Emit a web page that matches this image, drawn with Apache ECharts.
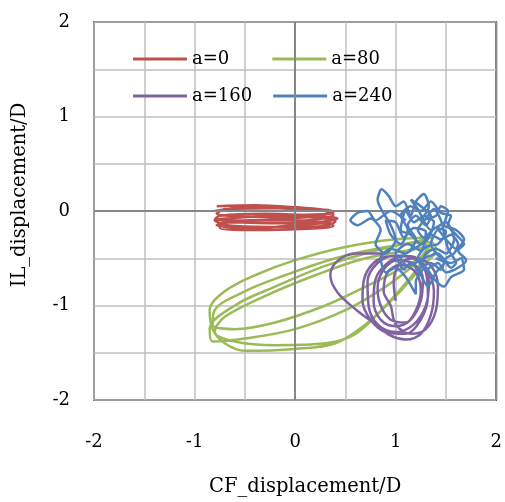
<!DOCTYPE html>
<html>
<head>
<meta charset="utf-8">
<script src="https://cdn.jsdelivr.net/npm/echarts@6/dist/echarts.min.js"></script>
<style>html,body{margin:0;padding:0;background:#fff;}#chart{width:505px;height:502px;}</style>
</head>
<body>
<div id="chart"></div>
<script>
var xTicks = [-2, -1, 0, 1, 2];
var yTicks = [-2, -1, 0, 1, 2];
var seriesNames = ['a=0', 'a=80', 'a=160', 'a=240'];

var a0 = [
  [-0.78,0.05],[-0.4,0.06],[0.0,0.04],[0.3,0.01],[0.38,-0.02],[0.1,-0.04],[-0.3,-0.03],[-0.75,-0.05],
  [-0.8,-0.09],[-0.5,-0.1],[-0.1,-0.08],[0.3,-0.06],[0.42,-0.08],[0.2,-0.12],[-0.2,-0.13],[-0.7,-0.12],
  [-0.78,-0.15],[-0.4,-0.18],[0.0,-0.15],[0.35,-0.13],[0.38,-0.16],[0.05,-0.19],[-0.4,-0.2],[-0.75,-0.18],
  [-0.72,-0.13],[-0.3,-0.1],[0.1,-0.1],[0.38,-0.04],[0.2,0.02],[-0.2,0.03],[-0.7,0.02],[-0.78,-0.03],
  [-0.4,-0.06],[0.0,-0.06],[0.4,-0.11],[0.3,-0.16],[-0.1,-0.17],[-0.6,-0.16],[-0.8,-0.1],[-0.55,-0.07],
  [-0.2,-0.05],[0.25,-0.05],[0.36,0.0],[0.0,0.02],[-0.5,0.04],[-0.8,0.0]
];

var a80 = [
  [1.38,-0.28],[1.0,-0.3],[0.5,-0.38],[0.0,-0.52],[-0.4,-0.68],[-0.7,-0.85],[-0.85,-1.05],[-0.82,-1.25],
  [-0.7,-1.4],[-0.5,-1.48],[0.0,-1.46],[0.4,-1.4],[0.7,-1.2],[1.0,-0.9],[1.25,-0.6],[1.4,-0.4],
  [1.35,-0.33],[0.9,-0.38],[0.4,-0.5],[-0.1,-0.68],[-0.5,-0.85],[-0.8,-1.05],[-0.82,-1.2],[-0.6,-1.25],
  [-0.2,-1.18],[0.3,-1.0],[0.7,-0.8],[1.1,-0.58],[1.3,-0.42],
  [1.3,-0.3],[0.8,-0.42],[0.3,-0.58],[-0.2,-0.8],[-0.6,-1.0],[-0.85,-1.25],[-0.82,-1.38],[-0.5,-1.35],
  [0.0,-1.25],[0.5,-1.05],[0.9,-0.8],[1.2,-0.55],[1.35,-0.35],
  [1.3,-0.38],[0.7,-0.5],[0.2,-0.68],[-0.3,-0.9],[-0.7,-1.12],[-0.8,-1.28],[-0.6,-1.38],[-0.2,-1.42],
  [0.3,-1.4],[0.6,-1.3],[0.9,-1.0],[1.15,-0.7],[1.35,-0.4]
];

var a160 = [
  [0.9,-0.45],[0.6,-0.45],[0.42,-0.53],[0.35,-0.68],[0.42,-0.86],[0.6,-1.04],[0.8,-1.2],[0.95,-1.32],
  [1.1,-1.36],[1.25,-1.3],[1.35,-1.1],[1.38,-0.85],[1.3,-0.6],[1.15,-0.48],[0.95,-0.48],[0.78,-0.55],
  [0.68,-0.75],[0.67,-0.95],[0.75,-1.15],[0.9,-1.28],[1.1,-1.3],[1.25,-1.15],[1.32,-0.9],[1.3,-0.65],
  [1.18,-0.5],[1.0,-0.47],[0.82,-0.55],[0.72,-0.75],[0.73,-1.0],[0.82,-1.2],[1.0,-1.28],[1.18,-1.2],
  [1.3,-1.0],[1.33,-0.75],[1.25,-0.55],[1.08,-0.48],[0.92,-0.55],[0.8,-0.72],[0.78,-0.95],[0.85,-1.15],
  [1.0,-1.22],[1.15,-1.15],[1.25,-0.95],[1.27,-0.72],[1.18,-0.56],[1.02,-0.52],[0.88,-0.62],[0.82,-0.82],
  [0.85,-1.0],[0.95,-1.15],[1.1,-1.18],[1.2,-1.05],[1.25,-0.85],[1.2,-0.65],[1.05,-0.57],[0.92,-0.65],
  [0.88,-0.85],[0.95,-1.0],[1.0,-1.2],[1.15,-1.3],[1.3,-1.25],[1.4,-1.05],[1.42,-0.8],[1.35,-0.58],
  [1.2,-0.5],[1.05,-0.55],[0.98,-0.75],[1.0,-0.95]
];

var a240 = [
  [1.1,-0.1],[0.95,0.0],[0.8,-0.1],[0.72,0.0],[0.62,-0.02],[0.55,-0.1],[0.62,-0.15],[0.75,-0.08],
  [0.85,-0.2],[0.8,-0.35],[0.9,-0.45],[1.0,-0.3],[0.95,-0.15],[0.82,0.12],[0.86,0.23],[0.93,0.16],
  [1.0,0.05],[1.08,0.1],[1.15,-0.05],[1.2,0.1],[1.28,0.18],[1.33,0.05],[1.25,-0.1],[1.4,-0.05],
  [1.45,0.05],[1.52,0.0],[1.48,-0.15],[1.6,-0.2],[1.68,-0.3],[1.6,-0.4],[1.5,-0.3],[1.42,-0.2],
  [1.35,-0.35],[1.45,-0.5],[1.55,-0.55],[1.65,-0.5],[1.68,-0.62],[1.55,-0.7],[1.48,-0.8],[1.38,-0.72],
  [1.3,-0.6],[1.2,-0.75],[1.2,-0.88],[1.1,-0.7],[1.0,-0.6],[0.9,-0.65],[0.85,-0.5],[0.95,-0.4],
  [1.1,-0.45],[1.2,-0.3],[1.12,-0.15],[1.2,-0.05],[1.3,-0.15],[1.35,-0.05],[1.25,0.05],[1.15,0.12],
  [1.22,0.02],[1.35,-0.2],[1.5,-0.12],[1.58,-0.3],[1.5,-0.45],[1.4,-0.4],[1.3,-0.45],[1.25,-0.6],
  [1.35,-0.55],[1.45,-0.62],[1.5,-0.5],[1.58,-0.45],[1.62,-0.35],[1.55,-0.25],[1.45,-0.3],[1.35,-0.25],
  [1.25,-0.35],[1.15,-0.25],[1.05,-0.2],[1.1,0.0],[1.18,-0.12],[1.28,-0.05],[1.38,-0.12],[1.32,-0.3],
  [1.18,-0.4],[1.05,-0.5],[1.12,-0.58],[1.28,-0.5],[1.42,-0.45],[1.55,-0.6],[1.6,-0.55],
  [1.52,-0.4],[1.45,-0.1],[1.38,0.02],[1.3,-0.08],[1.22,-0.2],[1.28,-0.28],[1.4,-0.18],[1.5,-0.22],
  [1.42,-0.35],[1.3,-0.38],[1.22,-0.5],[1.3,-0.62],[1.42,-0.55],[1.5,-0.65],[1.62,-0.6],[1.7,-0.52],
  [1.62,-0.42],[1.68,-0.35],[1.6,-0.25],[1.52,-0.15],[1.55,-0.05],[1.45,-0.02],[1.35,0.1],[1.25,0.0],
  [1.15,0.05],[1.05,-0.05],[1.12,-0.2],[1.05,-0.35],[0.95,-0.25],[0.9,-0.1],[1.0,-0.12],[1.08,-0.28],
  [1.18,-0.18],[1.3,-0.22],[1.25,-0.42],[1.12,-0.35],[1.0,-0.45],[1.08,-0.62],[1.15,-0.55],[1.25,-0.68],
  [1.32,-0.8],[1.4,-0.65],[1.48,-0.55],[1.4,-0.5]
];

var colors = ['#C0504D', '#9BBB59', '#8064A2', '#4F81BD'];
var dataSets = [a0, a80, a160, a240];
var smoothness = [0.35, 0.35, 0.35, 0.25];
var FONT = 'DejaVu Serif';

var chart = echarts.init(document.getElementById('chart'), null, {renderer: 'canvas'});

function tickFormatter(list) {
  return function (v) {
    for (var i = 0; i < list.length; i++) { if (Math.abs(list[i] - v) < 1e-9) return String(list[i]); }
    return '';
  };
}

var series = seriesNames.map(function (n, i) {
  return {
    name: n, type: 'line', data: dataSets[i], showSymbol: false, symbol: 'none',
    smooth: smoothness[i], lineStyle: {color: colors[i], width: 2.5}, itemStyle: {color: colors[i]},
    z: 3 + i, animation: false
  };
});
series.push({
  type: 'line', data: [], silent: true, z: 2,
  markLine: {
    silent: true, symbol: 'none', label: {show: false}, animation: false,
    lineStyle: {color: '#868686', width: 2, type: 'solid'},
    data: [{xAxis: 0}, {yAxis: 0}]
  }
});

chart.setOption({
  animation: false,
  backgroundColor: '#fff',
  color: colors,
  grid: {left: 94, right: 7, top: 22, bottom: 97, show: true, borderColor: '#000', borderWidth: 1.5, backgroundColor: 'transparent'},
  legend: [
    {data: ['a=0', 'a=80'], left: 133, top: 50, padding: 0, icon: 'rect', itemWidth: 54, itemHeight: 3, itemGap: 43,
     textStyle: {fontFamily: FONT, fontSize: 18, color: '#000'}},
    {data: ['a=160', 'a=240'], left: 133, top: 87, padding: 0, icon: 'rect', itemWidth: 54, itemHeight: 3, itemGap: 21,
     textStyle: {fontFamily: FONT, fontSize: 18, color: '#000'}}
  ],
  xAxis: {
    type: 'value', min: -2, max: 2, interval: 0.5,
    axisLine: {show: false, onZero: false}, axisTick: {show: false},
    splitLine: {show: true, lineStyle: {color: '#BFBFBF', width: 1.5}},
    axisLabel: {formatter: tickFormatter(xTicks), margin: 33, fontFamily: FONT, fontSize: 18, color: '#000'},
    name: 'CF_displacement/D', nameLocation: 'middle', nameGap: 77,
    nameTextStyle: {fontFamily: FONT, fontSize: 19.5, color: '#000', padding: [0, 0, 0, 20]}
  },
  yAxis: {
    type: 'value', min: -2, max: 2, interval: 0.5,
    axisLine: {show: false, onZero: false}, axisTick: {show: false},
    splitLine: {show: true, lineStyle: {color: '#BFBFBF', width: 1.5}},
    axisLabel: {formatter: tickFormatter(yTicks), margin: 24, fontFamily: FONT, fontSize: 18, color: '#000'},
    name: 'IL_displacement/D', nameLocation: 'middle', nameGap: 64,
    nameTextStyle: {fontFamily: FONT, fontSize: 19.5, color: '#000', padding: [0, 0, 0, 32]}
  },
  series: series
});
</script>
</body>
</html>
